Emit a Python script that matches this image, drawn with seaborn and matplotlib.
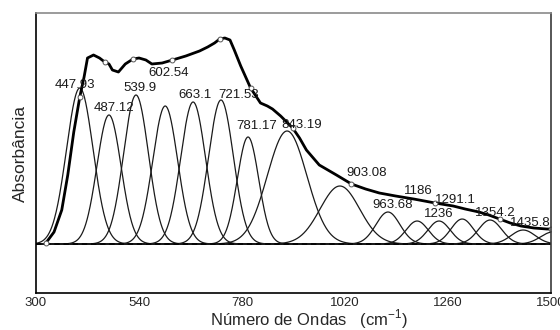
import numpy as np
import pandas as pd
import matplotlib
matplotlib.use("Agg")
import matplotlib.pyplot as plt
import seaborn as sns

sns.set_theme(style="white")
plt.rcParams["font.family"] = ["Liberation Sans", "DejaVu Sans"]
plt.rcParams["mathtext.fontset"] = "custom"
plt.rcParams["mathtext.rm"] = "Liberation Sans"

# fitted component bands (position on the plotted axis, height, sigma)
peak_centers = [402, 470, 533, 601, 666, 731, 794, 885, 1008, 1120,
                1188, 1239, 1293, 1358, 1435, 1504]
peak_heights = [1.56, 1.29, 1.49, 1.38, 1.42, 1.44, 1.07, 1.13, 0.58, 0.32,
                0.23, 0.23, 0.25, 0.24, 0.14, 0.12]
peak_sigmas = [31, 28, 29, 29, 29, 29, 25, 46, 46, 28,
               26, 26, 26, 27, 28, 28]

# measured spectrum (envelope)
env_x = [323, 342, 360, 374, 388, 402, 412, 420, 434, 448, 460, 470, 478,
         492, 508, 526, 540, 556, 570, 594, 618, 649, 681, 700, 716, 728,
         740, 752, 762, 777, 800, 823, 839, 851, 870, 898, 914, 930, 960,
         1000, 1035, 1068, 1100, 1138, 1180, 1230, 1272, 1300, 1332, 1355,
         1380, 1405, 1430, 1460, 1490, 1500]
env_y = [0.01, 0.12, 0.34, 0.69, 1.12, 1.47, 1.67, 1.86, 1.89, 1.86, 1.82,
         1.80, 1.74, 1.72, 1.80, 1.85, 1.86, 1.84, 1.80, 1.81, 1.84, 1.88,
         1.93, 1.97, 2.01, 2.05, 2.06, 2.04, 1.94, 1.78, 1.56, 1.41, 1.38,
         1.35, 1.28, 1.16, 1.06, 0.94, 0.79, 0.69, 0.60, 0.55, 0.51, 0.48,
         0.45, 0.41, 0.38, 0.35, 0.32, 0.29, 0.25, 0.21, 0.18, 0.16, 0.15,
         0.15]

# band labels (text, x, y)
label_text = ["447.93", "487.12", "539.9", "602.54", "663.1", "721.53",
              "781.17", "843.19", "903.08", "963.68", "1186", "1291.1",
              "1236", "1354.2", "1435.8"]
label_x = [391, 482, 542, 610, 670, 773, 815, 920, 1071, 1130, 1190, 1278,
           1239, 1369, 1451]
label_y = [1.59, 1.36, 1.56, 1.71, 1.49, 1.49, 1.18, 1.19, 0.71, 0.39,
           0.53, 0.44, 0.30, 0.31, 0.21]

xticks = [300, 540, 780, 1020, 1260, 1500]

fig = plt.figure(figsize=(5.6, 3.3), dpi=100)
ax = fig.add_axes([0.0643, 0.1121, 0.9197, 0.8485])

grid = np.linspace(300, 1500, 1201)
for c, h, s in zip(peak_centers, peak_heights, peak_sigmas):
    comp = pd.DataFrame({"x": grid, "y": h * np.exp(-(grid - c) ** 2 / (2 * s ** 2))})
    sns.lineplot(data=comp, x="x", y="y", ax=ax, color="#1a1a1a", lw=0.9)

ax.axhline(0, color="black", lw=1.1, ls=(0, (3.5, 2.5)))

env = pd.DataFrame({"x": env_x, "y": env_y})
sns.lineplot(data=env, x="x", y="y", ax=ax, color="black", lw=2.0,
             marker="o", markersize=3.5, markerfacecolor="white",
             markeredgecolor="#555555", markeredgewidth=0.7, markevery=5)

for t, x, y in zip(label_text, label_x, label_y):
    ax.text(x, y, t, fontsize=9.5, color="#1a1a1a", ha="center", va="center")

ax.set_xlim(300, 1500)
ax.set_ylim(-0.49, 2.31)
ax.set_xticks(xticks)
ax.set_xticklabels([str(v) for v in xticks], fontsize=9.5)
ax.set_yticks([])
ax.tick_params(axis="x", length=0, pad=3)
ax.set_xlabel("Número de Ondas   (cm$^{-1}$)", fontsize=12)
ax.xaxis.set_label_coords(0.53, -0.053)
ax.set_ylabel("Absorbância", fontsize=12.5, labelpad=6)

ax.spines["left"].set_color("black")
ax.spines["bottom"].set_color("black")
ax.spines["top"].set_color("#8a8a8a")
ax.spines["right"].set_color("#3a3a3a")
for sp in ax.spines.values():
    sp.set_linewidth(1.2)
    sp.set_visible(True)

fig.savefig("out.png", dpi=100)
